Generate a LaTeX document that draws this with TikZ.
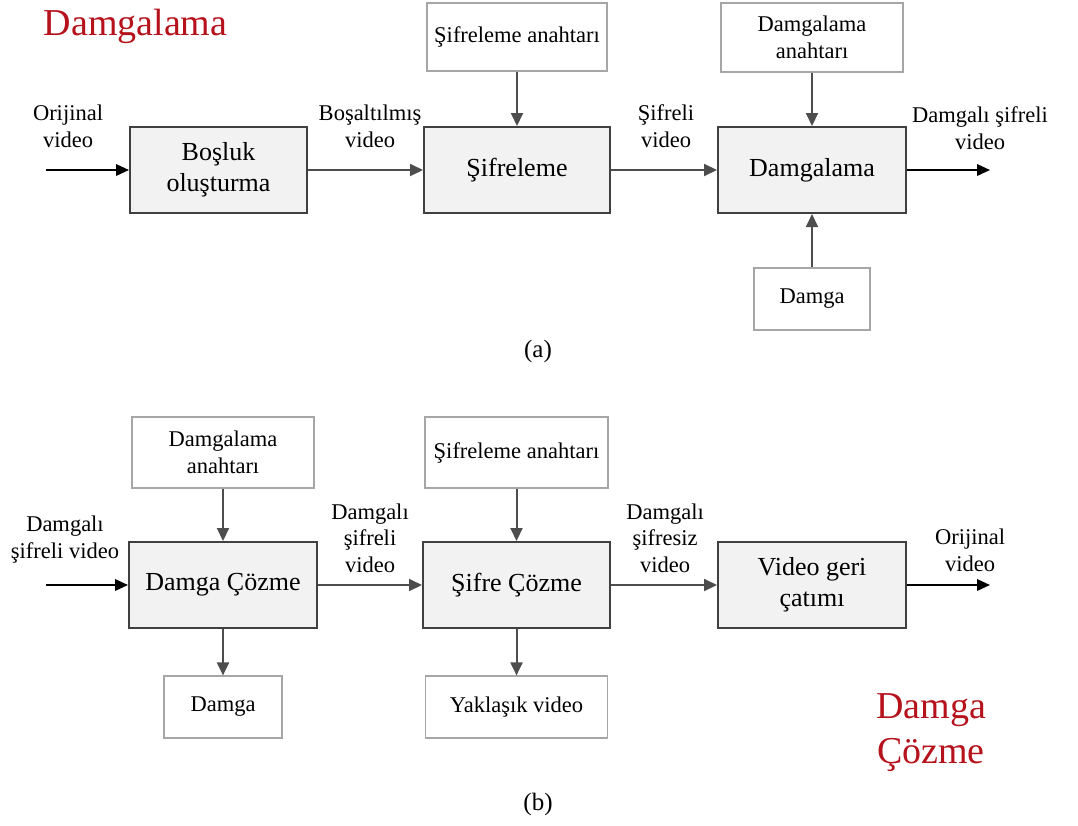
\documentclass[tikz,border=0pt]{standalone}
\usepackage{fontspec}
\setmainfont{Liberation Serif}
\usetikzlibrary{arrows.meta}
\definecolor{boxfill}{HTML}{F2F2F2}
\definecolor{boxdraw}{HTML}{404040}
\definecolor{thinline}{HTML}{A6A6A6}
\definecolor{arr}{HTML}{4D4D4D}
\definecolor{titlered}{HTML}{B5121B}
\begin{document}
\begin{tikzpicture}[x=1pt,y=-1pt,
 mainbox/.style={draw=boxdraw, fill=boxfill, line width=2pt, minimum height=86pt, inner sep=0pt, font=\fontsize{26}{31}\selectfont, align=center},
 smallbox/.style={draw=thinline, line width=1.2pt, fill=white, inner sep=0pt, font=\fontsize{22.5}{26.5}\selectfont, align=center},
 lbl/.style={font=\fontsize{22.5}{26.5}\selectfont, align=center, anchor=base, inner sep=0pt},
 flow/.style={draw=arr, line width=2pt, -{Triangle[length=13pt,width=12pt]}},
 io/.style={draw=black, line width=2pt, -{Triangle[length=13pt,width=11.5pt]}},
 ttl/.style={text=titlered, font=\fontsize{38}{45}\selectfont, align=center, anchor=base, inner sep=0pt},
 captxt/.style={font=\fontsize{25}{30}\selectfont, anchor=base, inner sep=0pt}
]
\useasboundingbox (0,0) rectangle (1078,825);

% ---------- (a) ----------
\node[ttl] (t1) at (135.5,35) {Damgalama};
\node[mainbox, minimum width=177pt] (bos) at (218.5,170) {Boşluk\\oluşturma};
\node[mainbox, minimum width=186pt] (sif) at (517,170) {Şifreleme};
\node[mainbox, minimum width=188pt] (dam) at (812,170) {Damgalama};
\node[smallbox, minimum width=180pt, minimum height=68pt] (sk1) at (517,37) {Şifreleme anahtarı};
\node[smallbox, minimum width=182pt, minimum height=69pt] (dk1) at (812,37.5) {Damgalama\\anahtarı};
\node[smallbox, minimum width=116pt, minimum height=62pt] (dg1) at (812,299) {Damga};
\coordinate (in1) at (46,170);
\coordinate (out1) at (990,170);
\draw[io] (in1) -- (bos.west);
\draw[flow] (bos) -- (sif);
\draw[flow] (sif) -- (dam);
\draw[io] (dam.east) -- (out1);
\draw[flow] (sk1) -- (sif);
\draw[flow] (dk1) -- (dam);
\draw[flow] (dg1) -- (dam);
\node[lbl] (la1) at (68,147) {Orijinal\\video};
\node[lbl] (la2) at (370,147) {Boşaltılmış\\video};
\node[lbl] (la3) at (666,147) {Şifreli\\video};
\node[lbl] (la4) at (980,149) {Damgalı şifreli\\video};
\node[captxt] (capa) at (538,357) {(a)};

% ---------- (b) ----------
\node[mainbox, minimum width=188pt] (dc) at (223,585) {Damga Çözme};
\node[mainbox, minimum width=187pt] (sc) at (516.5,585) {Şifre Çözme};
\node[mainbox, minimum width=188pt] (vg) at (812,585) {Video geri\\çatımı};
\node[smallbox, minimum width=182pt, minimum height=71pt] (dk2) at (223,452.5) {Damgalama\\anahtarı};
\node[smallbox, minimum width=183pt, minimum height=71pt] (sk2) at (516.5,452.5) {Şifreleme anahtarı};
\node[smallbox, minimum width=118pt, minimum height=62pt] (dg2) at (223,707) {Damga};
\node[smallbox, minimum width=182pt, minimum height=62pt] (yv) at (516.5,707) {Yaklaşık video};
\coordinate (in2) at (46,585);
\coordinate (out2) at (990,585);
\draw[io] (in2) -- (dc.west);
\draw[flow] (dc) -- (sc);
\draw[flow] (sc) -- (vg);
\draw[io] (vg.east) -- (out2);
\draw[flow] (dk2) -- (dc);
\draw[flow] (sk2) -- (sc);
\draw[flow] (dc) -- (dg2);
\draw[flow] (sc) -- (yv);
\node[lbl] (lb1) at (65,558) {Damgalı\\şifreli video};
\node[lbl] (lb2) at (370,572) {Damgalı\\şifreli\\video};
\node[lbl] (lb3) at (665,572) {Damgalı\\şifresiz\\video};
\node[lbl] (lb4) at (970,571) {Orijinal\\video};
\node[ttl] (t2) at (931,763) {Damga\\Çözme};
\node[captxt] (capb) at (538,810) {(b)};
\end{tikzpicture}
\end{document}
